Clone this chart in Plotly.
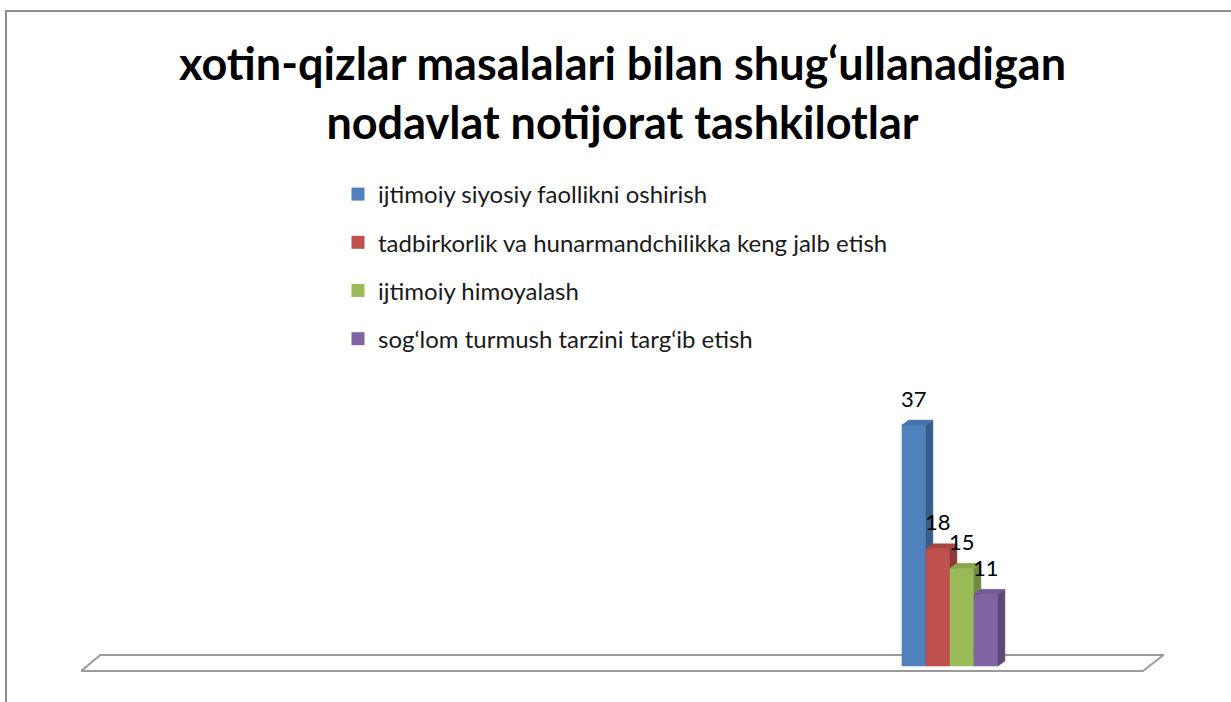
import plotly.graph_objects as go

# ---------------- data ----------------
title_lines = ["xotin-qizlar masalalari bilan shug‘ullanadigan",
               "nodavlat notijorat tashkilotlar"]
series_names = ["ijtimoiy siyosiy faollikni oshirish",
                "tadbirkorlik va hunarmandchilikka keng jalb etish",
                "ijtimoiy himoyalash",
                "sog‘lom turmush tarzini targ‘ib etish"]
values = [37, 18, 15, 11]
bar_slots = [0, 1, 2, 3]

# ---------------- style ----------------
front_colors = ["#4F81BD", "#C0504D", "#9BBB59", "#8064A2"]
side_colors = ["#385D8A", "#8C3836", "#71893F", "#5C4776"]
top_colors = ["#4675AE", "#A94643", "#88A64E", "#735A92"]
FONT = "Lato"
W, H = 1231, 702
HALF = 0.5          # half bar width (x units)
DX, DY = 0.29, 0.77  # 3-D depth offset
FLOOR_X_FRONT = (-34.7, 9.54)
FLOOR_X_BACK = (-33.9, 10.4)
FLOOR_Y = (-0.77, 1.69)

fig = go.Figure()

# floor
fig.add_trace(go.Scatter(
    x=[FLOOR_X_FRONT[0], FLOOR_X_FRONT[1], FLOOR_X_BACK[1], FLOOR_X_BACK[0], FLOOR_X_FRONT[0]],
    y=[FLOOR_Y[0], FLOOR_Y[0], FLOOR_Y[1], FLOOR_Y[1], FLOOR_Y[0]],
    mode="lines", fill="toself", fillcolor="white",
    line=dict(color="#9a9a9a", width=2), showlegend=False, hoverinfo="skip"))

annotations = []
for i, (p, v) in enumerate(zip(bar_slots, values)):
    # front face
    fig.add_trace(go.Scatter(
        x=[p - HALF, p + HALF, p + HALF, p - HALF, p - HALF],
        y=[0, 0, v, v, 0], mode="lines", fill="toself",
        fillcolor=front_colors[i], line=dict(color=front_colors[i], width=0.5),
        showlegend=False, hoverinfo="skip"))
    # side face
    fig.add_trace(go.Scatter(
        x=[p + HALF, p + HALF + DX, p + HALF + DX, p + HALF, p + HALF],
        y=[0, DY, v + DY, v, 0], mode="lines", fill="toself",
        fillcolor=side_colors[i], line=dict(color=side_colors[i], width=0.5),
        showlegend=False, hoverinfo="skip"))
    # top face
    fig.add_trace(go.Scatter(
        x=[p - HALF, p + HALF, p + HALF + DX, p - HALF + DX, p - HALF],
        y=[v, v, v + DY, v + DY, v], mode="lines", fill="toself",
        fillcolor=top_colors[i], line=dict(color=top_colors[i], width=0.5),
        showlegend=False, hoverinfo="skip"))
    annotations.append(dict(x=p, y=v, xref="x", yref="y", text=str(v),
                            showarrow=False, yanchor="middle", yshift=27,
                            font=dict(family=FONT, size=22, color="#000000")))

# legend entries
for i, name in enumerate(series_names):
    fig.add_trace(go.Scatter(
        x=[None], y=[None], mode="markers", name=name, legendgroup=str(i),
        marker=dict(symbol="square", size=13, color=front_colors[i])))

fig.update_layout(
    width=W, height=H,
    margin=dict(l=0, r=0, t=0, b=0),
    paper_bgcolor="white", plot_bgcolor="white",
    xaxis=dict(range=[-38.08, 13.21], visible=False, fixedrange=True),
    yaxis=dict(range=[-5.53, 102.3], visible=False, fixedrange=True),
    title=dict(text="<br>".join(title_lines), x=0.5057, xanchor="center",
               y=1 - 80 / H, yanchor="top", yref="container",
               font=dict(family=FONT, size=45, color="#000000", weight=700)),
    legend=dict(x=338 / W, y=1 - 172 / H, xanchor="left", yanchor="top",
                bgcolor="rgba(0,0,0,0)", tracegroupgap=14,
                font=dict(family=FONT, size=24, color="#1a1a1a")),
    annotations=annotations,
    shapes=[dict(type="rect", xref="paper", yref="paper",
                 x0=6 / W, x1=1.2, y0=-0.2, y1=1 - 11 / H,
                 line=dict(color="#8c8c8c", width=2), layer="below")],
    showlegend=True,
)

fig.write_html("out.html", config={"displayModeBar": False},
               post_script="document.body.style.margin='0';")
